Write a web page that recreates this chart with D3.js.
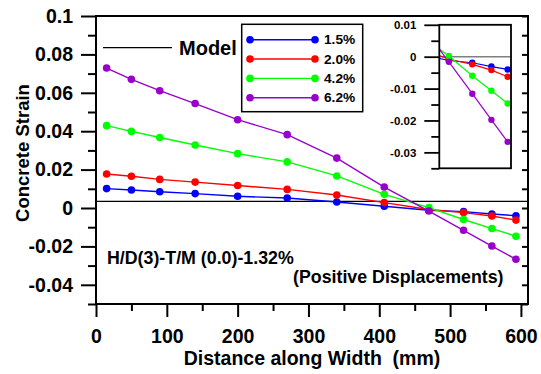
<!DOCTYPE html>
<html>
<head>
<meta charset="utf-8">
<script src="https://cdn.jsdelivr.net/npm/d3@7"></script>
<style>
  html, body { margin: 0; padding: 0; background: #fff; }
  svg { display: block; font-family: "Liberation Sans", Arial, Helvetica, sans-serif; font-weight: bold; }
</style>
</head>
<body>
<svg id="chart" width="541" height="374"></svg>
<script>
// Measured distances across the wall width (mm)
const distance = [15, 50, 90, 140, 200, 270, 340, 407, 470, 519, 559, 593];

// Concrete strain at each gauge for the four drift levels
const strain15 = [0.0101, 0.0094, 0.0085, 0.0075, 0.0061, 0.0052, 0.0031, 0.0009, -0.0012, -0.0019, -0.0031, -0.0040];
const strain20 = [0.0177, 0.0165, 0.0149, 0.0135, 0.0117, 0.0097, 0.0068, 0.0028, -0.0008, -0.0024, -0.0042, -0.0063];
const strain42 = [0.0429, 0.0399, 0.0367, 0.0328, 0.0283, 0.0240, 0.0167, 0.0071, 0.0002, -0.0060, -0.0107, -0.0147];
const strain62 = [0.0729, 0.0670, 0.0611, 0.0544, 0.0460, 0.0382, 0.0260, 0.0109, -0.0016, -0.0116, -0.0198, -0.0267];

const seriesLabels = ["1.5%", "2.0%", "4.2%", "6.2%"];
const seriesColors = ["#0000ff", "#ff0000", "#00ff00", "#9900cc"];

// Model prediction (constant strain across the width)
const modelStrain = 0.0035;

const xTicks = [0, 100, 200, 300, 400, 500, 600];
const xMinorTicks = [50, 150, 250, 350, 450, 550];
const yTicks = [0.1, 0.08, 0.06, 0.04, 0.02, 0, -0.02, -0.04];
const yMinorTicks = [0.09, 0.07, 0.05, 0.03, 0.01, -0.01, -0.03, -0.05];
const insetYTicks = [0.01, 0, -0.01, -0.02, -0.03];
const insetYMinorTicks = [0.005, -0.005, -0.015, -0.025, -0.035];

const series = [strain15, strain20, strain42, strain62].map((vals, i) => ({
  label: seriesLabels[i],
  color: seriesColors[i],
  points: distance.map((d, j) => ({ x: d, y: vals[j] }))
}));

const svg = d3.select("#chart");
const fmt = d => String(+d.toFixed(3));

// ---- main plot ----
const x = d3.scaleLinear().domain([0, 610]).range([96, 528]);
const y = d3.scaleLinear().domain([-0.05, 0.1]).range([304, 16]);

const axisStyle = g => {
  g.select(".domain").remove();
  g.selectAll(".tick line").attr("stroke", "#000").attr("stroke-width", 2);
  g.selectAll(".tick text").attr("fill", "#000").style("font-size", "19.5px").style("font-weight", "bold")
    .style("font-family", '"Liberation Sans", Arial, sans-serif');
};

// y axis: major ticks with labels, minor ticks without
svg.append("g").attr("transform", "translate(96,0)")
  .call(d3.axisLeft(y).tickValues(yTicks).tickSize(15).tickPadding(8).tickFormat(fmt))
  .call(axisStyle);
svg.append("g").attr("transform", "translate(96,0)")
  .call(d3.axisLeft(y).tickValues(yMinorTicks).tickSize(8).tickFormat(""))
  .call(axisStyle);

// right axis: inward ticks every 0.01
svg.append("g").attr("transform", "translate(528,0)")
  .call(d3.axisLeft(y).tickValues(yTicks.concat(yMinorTicks)).tickSize(6).tickFormat(""))
  .call(axisStyle);

// x axis
svg.append("g").attr("transform", "translate(0,304)")
  .call(d3.axisBottom(x).tickValues(xTicks).tickSize(13).tickPadding(12).tickFormat(d => d))
  .call(axisStyle);
svg.append("g").attr("transform", "translate(0,304)")
  .call(d3.axisBottom(x).tickValues(xMinorTicks).tickSize(7).tickFormat(""))
  .call(axisStyle);

// frame
svg.append("rect")
  .attr("x", x(0)).attr("y", y(0.1))
  .attr("width", x(610) - x(0)).attr("height", y(-0.05) - y(0.1))
  .attr("fill", "none").attr("stroke", "#000").attr("stroke-width", 2);

// model line
svg.append("line")
  .attr("x1", x(0)).attr("x2", x(610))
  .attr("y1", y(modelStrain)).attr("y2", y(modelStrain))
  .attr("stroke", "#000").attr("stroke-width", 1.3);

const line = d3.line().x(d => x(d.x)).y(d => y(d.y));
series.forEach(s => {
  svg.append("path").datum(s.points)
    .attr("d", line).attr("fill", "none")
    .attr("stroke", s.color).attr("stroke-width", 1.4);
  svg.selectAll(null).data(s.points).enter().append("circle")
    .attr("cx", d => x(d.x)).attr("cy", d => y(d.y)).attr("r", 3.8)
    .attr("fill", s.color);
});

// axis titles
svg.append("text")
  .attr("transform", "translate(29,153) rotate(-90)")
  .attr("text-anchor", "middle")
  .style("font-size", "18.5px")
  .text("Concrete Strain");
svg.append("text")
  .attr("x", 312).attr("y", 365)
  .attr("text-anchor", "middle")
  .style("font-size", "19.5px")
  .style("white-space", "pre")
  .text("Distance along Width  (mm)");

// annotations
svg.append("text").attr("x", 107).attr("y", 264).style("font-size", "17.8px")
  .text("H/D(3)-T/M (0.0)-1.32%");
svg.append("text").attr("x", 293).attr("y", 283).style("font-size", "17.8px")
  .text("(Positive Displacements)");

// model legend
svg.append("line").attr("x1", 103).attr("x2", 172).attr("y1", 47.7).attr("y2", 47.7)
  .attr("stroke", "#000").attr("stroke-width", 1.3);
svg.append("text").attr("x", 179).attr("y", 54.5).style("font-size", "20px").text("Model");

// series legend
const legend = svg.append("g");
legend.append("rect").attr("x", 241.7).attr("y", 24.3).attr("width", 121).attr("height", 87.4)
  .attr("fill", "#fff").attr("stroke", "#000").attr("stroke-width", 1.5);
series.forEach((s, i) => {
  const ly = 39.7 + i * 19.35;
  legend.append("line").attr("x1", 250).attr("x2", 315).attr("y1", ly).attr("y2", ly)
    .attr("stroke", s.color).attr("stroke-width", 1.4);
  [250, 315].forEach(cx => legend.append("circle").attr("cx", cx).attr("cy", ly).attr("r", 3.8).attr("fill", s.color));
  legend.append("text").attr("x", 324).attr("y", ly + 4.7).style("font-size", "13.7px").text(s.label);
});

// ---- inset: close-up of the negative strains near the far edge ----
const ix = d3.scaleLinear().domain([450, 600]).range([439.3, 511]);
const iy = d3.scaleLinear().domain([-0.035, 0.01]).range([168.3, 24.8]);
const inset = svg.append("g");
inset.append("rect").attr("x", ix(450)).attr("y", iy(0.01))
  .attr("width", ix(600) - ix(450)).attr("height", iy(-0.035) - iy(0.01))
  .attr("fill", "#fff");
inset.append("clipPath").attr("id", "insetClip").append("rect")
  .attr("x", ix(450)).attr("y", iy(0.01))
  .attr("width", ix(600) - ix(450)).attr("height", iy(-0.035) - iy(0.01));

const insetAxisStyle = g => {
  g.select(".domain").remove();
  g.selectAll(".tick line").attr("stroke", "#000").attr("stroke-width", 1.8);
  g.selectAll(".tick text").attr("fill", "#000").style("font-size", "11.5px").style("font-weight", "bold")
    .style("font-family", '"Liberation Sans", Arial, sans-serif');
};
inset.append("g").attr("transform", `translate(${ix(450)},0)`)
  .call(d3.axisLeft(iy).tickValues(insetYTicks).tickSize(15).tickPadding(8).tickFormat(fmt))
  .call(insetAxisStyle);
inset.append("g").attr("transform", `translate(${ix(450)},0)`)
  .call(d3.axisLeft(iy).tickValues(insetYMinorTicks).tickSize(8).tickFormat(""))
  .call(insetAxisStyle);

inset.append("line")
  .attr("x1", ix(450)).attr("x2", ix(600)).attr("y1", iy(0)).attr("y2", iy(0))
  .attr("stroke", "#808080").attr("stroke-width", 1.5);

const iline = d3.line().x(d => ix(d.x)).y(d => iy(d.y));
const plotArea = inset.append("g").attr("clip-path", "url(#insetClip)");
series.forEach(s => {
  plotArea.append("path").datum(s.points)
    .attr("d", iline).attr("fill", "none")
    .attr("stroke", s.color).attr("stroke-width", 1.2);
});
series.forEach(s => {
  inset.selectAll(null).data(s.points.filter(d => d.x >= 450)).enter().append("circle")
    .attr("cx", d => ix(d.x)).attr("cy", d => iy(d.y)).attr("r", 3.2)
    .attr("fill", s.color);
});

inset.append("rect").attr("x", ix(450)).attr("y", iy(0.01))
  .attr("width", ix(600) - ix(450)).attr("height", iy(-0.035) - iy(0.01))
  .attr("fill", "none").attr("stroke", "#000").attr("stroke-width", 1.8);
</script>
</body>
</html>
